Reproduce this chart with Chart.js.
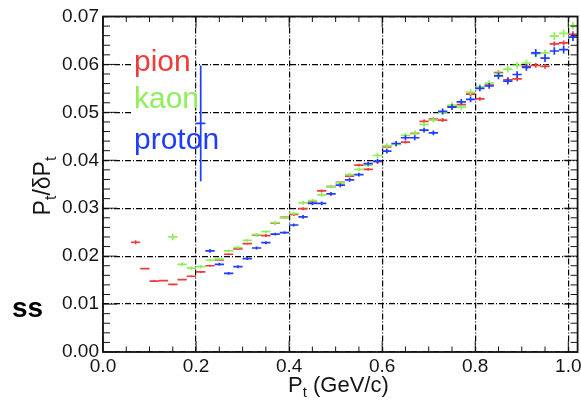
<!DOCTYPE html>
<html>
<head>
<meta charset="utf-8">
<script src="https://cdn.jsdelivr.net/npm/chart.js@4.4.1/dist/chart.umd.min.js"></script>
<style>
  html, body { margin: 0; padding: 0; background: #fff; }
  #wrap { width: 581px; height: 400px; }
</style>
</head>
<body>
<div id="wrap"><canvas id="res" width="581" height="400"></canvas></div>
<script>
const PION = '#ee3b3b';
const KAON = '#8eef5a';
const PROTON = '#1f3dff';
const INK = '#151515';
const FONT = '"Liberation Sans", Arial, Helvetica, sans-serif';

// half width of a Pt bin (bins are 0.02 GeV/c wide)
const BIN_HALF = 0.01;

const xTicks = [0, 0.2, 0.4, 0.6, 0.8, 1.0];
const yTicks = [0, 0.01, 0.02, 0.03, 0.04, 0.05, 0.06, 0.07];

const pionPt = [0.07, 0.09, 0.11, 0.13, 0.15, 0.17, 0.19, 0.21, 0.23, 0.25, 0.27, 0.29,
  0.31, 0.33, 0.35, 0.37, 0.39, 0.41, 0.43, 0.45, 0.47, 0.49, 0.51, 0.53,
  0.55, 0.57, 0.59, 0.61, 0.63, 0.65, 0.67, 0.69, 0.71, 0.73, 0.75, 0.77,
  0.79, 0.81, 0.83, 0.85, 0.87, 0.89, 0.91, 0.93, 0.95, 0.97, 0.99, 1.01];
const pionRes = [0.0229, 0.0174, 0.0148, 0.0149, 0.0141, 0.0151, 0.0158, 0.0167, 0.0180, 0.0192, 0.0204, 0.0215,
  0.0226, 0.0244, 0.0243, 0.0269, 0.0281, 0.0287, 0.0299, 0.0313, 0.0336, 0.0345, 0.0354, 0.0367,
  0.0390, 0.0381, 0.0397, 0.0428, 0.0434, 0.0438, 0.0456, 0.0481, 0.0486, 0.0484, 0.0513, 0.0516,
  0.0538, 0.0528, 0.0557, 0.0583, 0.0568, 0.0570, 0.0596, 0.0598, 0.0596, 0.0643, 0.0645, 0.0663];
const pionErr = [0.0004, 0.0002, 0.0002, 0.0002, 0.0002, 0.0002, 0.0002, 0.0002, 0.0002, 0.0002, 0.0002, 0.0002,
  0.0002, 0.0003, 0.0003, 0.0003, 0.0003, 0.0003, 0.0003, 0.0003, 0.0003, 0.0003, 0.0003, 0.0003,
  0.0003, 0.0003, 0.0003, 0.0003, 0.0003, 0.0003, 0.0004, 0.0004, 0.0004, 0.0004, 0.0004, 0.0004,
  0.0004, 0.0004, 0.0004, 0.0005, 0.0005, 0.0005, 0.0005, 0.0005, 0.0005, 0.0005, 0.0005, 0.0006];

const kaonPt = [0.15, 0.17, 0.19, 0.21, 0.23, 0.25, 0.27, 0.29, 0.31, 0.33, 0.35,
  0.37, 0.39, 0.41, 0.43, 0.45, 0.47, 0.49, 0.51, 0.53, 0.55, 0.57,
  0.59, 0.61, 0.63, 0.65, 0.67, 0.69, 0.71, 0.73, 0.75, 0.77, 0.79,
  0.81, 0.83, 0.85, 0.87, 0.89, 0.91, 0.93, 0.95, 0.97, 0.99, 1.01];
const kaonRes = [0.0240, 0.0183, 0.0175, 0.0178, 0.0192, 0.0194, 0.0211, 0.0218, 0.0233, 0.0245, 0.0251,
  0.0270, 0.0280, 0.0289, 0.0311, 0.0316, 0.0328, 0.0345, 0.0353, 0.0370, 0.0381, 0.0390,
  0.0410, 0.0430, 0.0433, 0.0452, 0.0457, 0.0475, 0.0484, 0.0500, 0.0515, 0.0511, 0.0542,
  0.0553, 0.0561, 0.0581, 0.0590, 0.0598, 0.0603, 0.0622, 0.0624, 0.0659, 0.0665, 0.0681];
const kaonErr = [0.0007, 0.0004, 0.0004, 0.0004, 0.0003, 0.0003, 0.0003, 0.0003, 0.0003, 0.0003, 0.0003,
  0.0003, 0.0003, 0.0003, 0.0004, 0.0004, 0.0004, 0.0004, 0.0004, 0.0004, 0.0004, 0.0004,
  0.0005, 0.0005, 0.0005, 0.0005, 0.0005, 0.0005, 0.0005, 0.0006, 0.0006, 0.0006, 0.0006,
  0.0006, 0.0006, 0.0007, 0.0007, 0.0007, 0.0007, 0.0007, 0.0007, 0.0008, 0.0008, 0.0008];

const protonPt = [0.21, 0.23, 0.25, 0.27, 0.29, 0.31, 0.33, 0.35, 0.37, 0.39, 0.41,
  0.43, 0.45, 0.47, 0.49, 0.51, 0.53, 0.55, 0.57, 0.59, 0.61,
  0.63, 0.65, 0.67, 0.69, 0.71, 0.73, 0.75, 0.77, 0.79, 0.81,
  0.83, 0.85, 0.87, 0.89, 0.91, 0.93, 0.95, 0.97, 0.99, 1.01];
const protonRes = [0.0477, 0.0211, 0.0183, 0.0164, 0.0178, 0.0195, 0.0217, 0.0228, 0.0246, 0.0249, 0.0265,
  0.0282, 0.0310, 0.0310, 0.0330, 0.0348, 0.0359, 0.0370, 0.0393, 0.0398, 0.0419,
  0.0435, 0.0447, 0.0447, 0.0463, 0.0457, 0.0502, 0.0511, 0.0522, 0.0527, 0.0550,
  0.0555, 0.0576, 0.0565, 0.0579, 0.0594, 0.0624, 0.0613, 0.0628, 0.0631, 0.0657];
const protonErr = [0.0121, 0.0004, 0.0003, 0.0003, 0.0003, 0.0003, 0.0003, 0.0003, 0.0003, 0.0003, 0.0003,
  0.0004, 0.0004, 0.0004, 0.0004, 0.0004, 0.0004, 0.0004, 0.0004, 0.0005, 0.0005,
  0.0005, 0.0005, 0.0005, 0.0005, 0.0005, 0.0006, 0.0006, 0.0006, 0.0006, 0.0006,
  0.0006, 0.0007, 0.0007, 0.0007, 0.0007, 0.0008, 0.0008, 0.0008, 0.0008, 0.0008];

function toPoints(pt, res) {
    return pt.map((x, i) => ({ x, y: res[i] }));
}

// horizontal bar over the bin width plus vertical error bar, ROOT "E" style
const errorBars = {
    id: 'errorBars',
    afterDatasetsDraw(chart) {
        const { ctx, scales: { x, y } } = chart;
        chart.data.datasets.forEach((ds) => {
            ctx.save();
            ctx.strokeStyle = ds.borderColor;
            ctx.lineWidth = 1.7;
            ctx.beginPath();
            ds.data.forEach((p, j) => {
                const xc = x.getPixelForValue(p.x);
                const yc = y.getPixelForValue(p.y);
                ctx.moveTo(x.getPixelForValue(p.x - BIN_HALF), yc);
                ctx.lineTo(x.getPixelForValue(p.x + BIN_HALF), yc);
                ctx.moveTo(xc, y.getPixelForValue(p.y + ds.yErr[j]));
                ctx.lineTo(xc, y.getPixelForValue(p.y - ds.yErr[j]));
            });
            ctx.stroke();
            ctx.restore();
        });
    },
};

// frame with inward major/minor ticks on all four sides
const frame = {
    id: 'frame',
    afterDatasetsDraw(chart) {
        const { ctx, chartArea: a, scales: { x, y } } = chart;
        ctx.save();
        ctx.strokeStyle = INK;
        ctx.lineWidth = 1;
        ctx.beginPath();
        for (let v = 0; v <= 1.02 + 1e-9; v += 0.05) {
            const px = x.getPixelForValue(v);
            const major = Math.abs(v / 0.2 - Math.round(v / 0.2)) < 1e-6;
            const len = major ? 11 : 5.5;
            ctx.moveTo(px, a.bottom); ctx.lineTo(px, a.bottom - len);
            ctx.moveTo(px, a.top); ctx.lineTo(px, a.top + len);
        }
        for (let v = 0; v <= 0.07 + 1e-9; v += 0.002) {
            const py = y.getPixelForValue(v);
            const major = Math.abs(v / 0.01 - Math.round(v / 0.01)) < 1e-6;
            const len = major ? 14 : 7;
            ctx.moveTo(a.left, py); ctx.lineTo(a.left + len, py);
            ctx.moveTo(a.right, py); ctx.lineTo(a.right - len, py);
        }
        ctx.stroke();
        ctx.lineWidth = 1.8;
        ctx.strokeRect(a.left, a.top, a.right - a.left, a.bottom - a.top);
        ctx.restore();
    },
};

// species labels sit on a white patch over the horizontal grid, under the markers
const legendText = {
    id: 'legendText',
    beforeDatasetsDraw(chart) {
        const { ctx, scales: { x } } = chart;
        const right = x.getPixelForValue(0.2) - 1;
        ctx.save();
        ctx.fillStyle = '#fff';
        ctx.fillRect(133, 36, right - 133, 119);
        ctx.textBaseline = 'alphabetic';
        ctx.textAlign = 'left';
        ctx.font = `30px ${FONT}`;
        ctx.fillStyle = PION; ctx.fillText('pion', 134, 71);
        ctx.fillStyle = KAON; ctx.fillText('kaon', 134, 108);
        ctx.fillStyle = PROTON; ctx.fillText('proton', 134, 149);
        ctx.restore();
    },
};

function textRun(ctx, parts, size) {
    let w = 0;
    parts.forEach(([t, sub]) => {
        ctx.font = `${sub ? Math.round(size * 0.68) : size}px ${FONT}`;
        w += ctx.measureText(t).width;
    });
    return w;
}

function drawRun(ctx, parts, x0, y0, size) {
    let cx = x0;
    parts.forEach(([t, sub]) => {
        ctx.font = `${sub ? Math.round(size * 0.68) : size}px ${FONT}`;
        ctx.fillText(t, cx, sub ? y0 + size * 0.24 : y0);
        cx += ctx.measureText(t).width;
    });
}

const titles = {
    id: 'titles',
    afterDraw(chart) {
        const { ctx } = chart;
        ctx.save();
        ctx.textBaseline = 'alphabetic';
        ctx.textAlign = 'left';

        ctx.fillStyle = '#000';
        ctx.font = `bold 28px ${FONT}`;
        ctx.fillText('ss', 12, 317);

        ctx.fillStyle = INK;
        const xTitle = [['P', false], ['t', true], [' (GeV/c)', false]];
        drawRun(ctx, xTitle, 288, 392, 22);

        const yTitle = [['P', false], ['t', true], ['/δP', false], ['t', true]];
        const yw = textRun(ctx, yTitle, 23);
        ctx.translate(50, 186 + yw / 2);
        ctx.rotate(-Math.PI / 2);
        drawRun(ctx, yTitle, 0, 0, 23);
        ctx.restore();
    },
};

const series = [
    { label: 'pion', color: PION, pt: pionPt, res: pionRes, err: pionErr },
    { label: 'kaon', color: KAON, pt: kaonPt, res: kaonRes, err: kaonErr },
    { label: 'proton', color: PROTON, pt: protonPt, res: protonRes, err: protonErr },
];

new Chart(document.getElementById('res'), {
    type: 'scatter',
    data: {
        datasets: series.map((s) => ({
            label: s.label,
            data: toPoints(s.pt, s.res),
            yErr: s.err,
            borderColor: s.color,
            backgroundColor: s.color,
            pointRadius: 0,
            pointHoverRadius: 0,
        })),
    },
    options: {
        responsive: false,
        animation: false,
        devicePixelRatio: 1,
        events: [],
        layout: { padding: { top: 16.5, right: 3.4, left: 0, bottom: 0 } },
        plugins: { legend: { display: false }, tooltip: { enabled: false } },
        scales: {
            x: {
                type: 'linear',
                min: 0,
                max: 1.02,
                afterBuildTicks: (s) => { s.ticks = xTicks.map((v) => ({ value: v })); },
                afterFit: (s) => { s.height = 48; s.paddingLeft = 0; s.paddingRight = 0; },
                ticks: {
                    callback: (v) => v.toFixed(1),
                    font: { family: FONT, size: 19 },
                    color: INK,
                    padding: 3,
                    maxRotation: 0,
                    autoSkip: false,
                },
                grid: { color: '#000', lineWidth: 1.2, drawTicks: false },
                border: { display: false, dash: [6, 2, 1, 2] },
            },
            y: {
                type: 'linear',
                min: 0,
                max: 0.07,
                afterBuildTicks: (s) => { s.ticks = yTicks.map((v) => ({ value: v })); },
                afterFit: (s) => { s.width = 103; s.paddingTop = 0; s.paddingBottom = 0; },
                ticks: {
                    callback: (v) => v.toFixed(2),
                    font: { family: FONT, size: 19 },
                    color: INK,
                    padding: 4,
                    autoSkip: false,
                },
                grid: { color: '#000', lineWidth: 1.2, drawTicks: false },
                border: { display: false, dash: [6, 2, 1, 2] },
            },
        },
    },
    plugins: [legendText, errorBars, frame, titles],
});
</script>
</body>
</html>
